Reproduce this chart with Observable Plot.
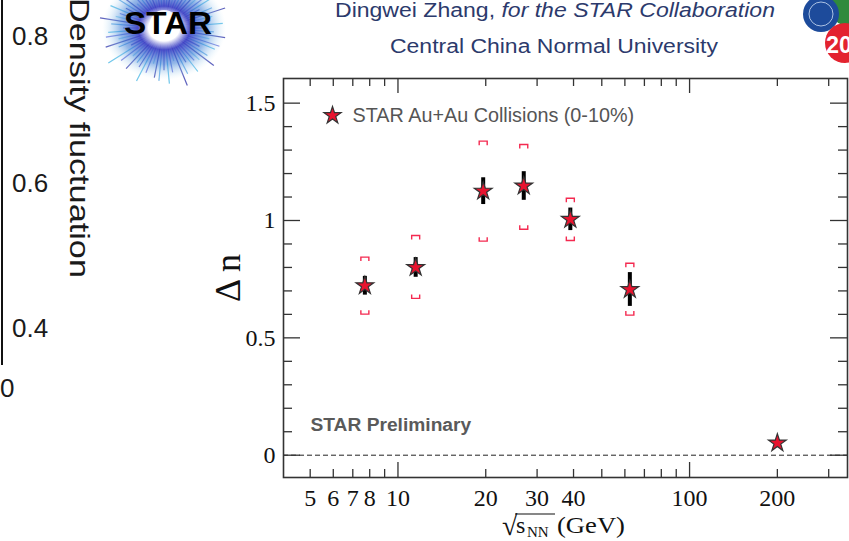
<!DOCTYPE html>
<html><head><meta charset="utf-8">
<script src="https://cdn.jsdelivr.net/npm/d3@7"></script>
<script src="https://cdn.jsdelivr.net/npm/@observablehq/plot@0.6"></script>
<style>
body{margin:0;background:#fff;}
#wrap{position:relative;width:849px;height:541px;overflow:hidden;background:#fff;}
#wrap > svg{position:absolute;left:0;top:0;}
</style></head>
<body><div id="wrap"></div>
<script>
// ---- data ----
const energies = [7.7, 11.5, 19.6, 27, 39, 62.4, 200];          // sqrt(s_NN) GeV
const deltaN   = [0.722, 0.800, 1.125, 1.147, 1.005, 0.706, 0.052];
const statErr  = [0.040, 0.042, 0.057, 0.061, 0.048, 0.072, 0.015];
const sysHigh  = [0.844, 0.936, 1.338, 1.324, 1.095, 0.818, null];
const sysLow   = [0.601, 0.668, 0.912, 0.963, 0.915, 0.597, null];
const xTickLabels = [5, 6, 7, 8, 10, 20, 30, 40, 100, 200];
const xMajorTicks = [10, 100];
const xMinorTicks = [5, 6, 7, 8, 9, 20, 30, 40, 50, 60, 70, 80, 90, 200, 300];
const yTickLabels = [0, 0.5, 1, 1.5];
const yMinorTicks = [0.1, 0.2, 0.3, 0.4, 0.6, 0.7, 0.8, 0.9, 1.1, 1.2, 1.3, 1.4];
const legendLabel = "STAR Au+Au Collisions (0-10%)";
const prelimLabel = "STAR Preliminary";

const rows = energies.map((e, i) => ({
  energy: e, dn: deltaN[i],
  lo: deltaN[i] - statErr[i], hi: deltaN[i] + statErr[i],
  sysHigh: sysHigh[i], sysLow: sysLow[i]
}));
const sysRows = rows.filter(d => d.sysHigh != null);

const bracketTop = {draw(ctx, size) {const r = Math.sqrt(size / Math.PI); ctx.moveTo(-r, r); ctx.lineTo(-r, 0); ctx.lineTo(r, 0); ctx.lineTo(r, r);}};
const bracketBottom = {draw(ctx, size) {const r = Math.sqrt(size / Math.PI); ctx.moveTo(-r, -r); ctx.lineTo(-r, 0); ctx.lineTo(r, 0); ctx.lineTo(r, -r);}};

const serif = "Liberation Serif, Times New Roman, serif";
const sans = "Liberation Sans, Arial, Helvetica, sans-serif";
const frameColor = "#333";
const red = "#e8142f";
const sysRed = "#f42a50";

const W = 849, H = 541, mT = 78, mB = 64, mL = 283, mR = 2;
const fw = W - mL - mR, fh = H - mT - mB;
const tick = (len, side) => ({stroke: frameColor, strokeWidth: 1.3,
  insetTop: side === "bottom" ? fh - len : 0, insetBottom: side === "top" ? fh - len : 0,
  insetLeft: side === "right" ? fw - len : 0, insetRight: side === "left" ? fw - len : 0});

const chart = Plot.plot({
  width: W, height: H,
  marginTop: mT, marginBottom: mB, marginLeft: mL, marginRight: mR,
  style: {fontFamily: serif, fontSize: "24px", color: "#111", background: "transparent", overflow: "visible"},
  x: {type: "log", domain: [4.05, 348], axis: null},
  y: {domain: [-0.095, 1.605], axis: null},
  marks: [
    Plot.ruleY([0], {stroke: "#222", strokeWidth: 1, strokeDasharray: "5,3"}),
    // inward ticks, all four sides
    Plot.ruleX(xMajorTicks, {x: d => d, ...tick(15, "bottom")}),
    Plot.ruleX(xMinorTicks, {x: d => d, ...tick(8, "bottom")}),
    Plot.ruleX(xMajorTicks, {x: d => d, ...tick(15, "top")}),
    Plot.ruleX(xMinorTicks, {x: d => d, ...tick(8, "top")}),
    Plot.ruleY(yTickLabels, {y: d => d, ...tick(17, "left")}),
    Plot.ruleY(yMinorTicks, {y: d => d, ...tick(9, "left")}),
    Plot.ruleY(yTickLabels, {y: d => d, ...tick(17, "right")}),
    Plot.ruleY(yMinorTicks, {y: d => d, ...tick(9, "right")}),
    // tick labels
    Plot.text(xTickLabels, {x: d => d, frameAnchor: "bottom", dy: 11, lineAnchor: "top", text: d => String(d), fontSize: 24, fill: "#111"}),
    Plot.text(yTickLabels, {y: d => d, frameAnchor: "left", dx: -8, textAnchor: "end", text: d => String(d), fontSize: 24, fill: "#111"}),
    Plot.frame({stroke: frameColor, strokeWidth: 1.6}),
    // systematic brackets
    Plot.dot(sysRows, {x: "energy", y: "sysHigh", symbol: bracketTop, r: 4, fill: "none", stroke: sysRed, strokeWidth: 1.4}),
    Plot.dot(sysRows, {x: "energy", y: "sysLow", symbol: bracketBottom, r: 4, fill: "none", stroke: sysRed, strokeWidth: 1.4}),
    // statistical error bars
    Plot.ruleX(rows, {x: "energy", y1: "lo", y2: "hi", stroke: "#000", strokeWidth: 4}),
    // data stars
    Plot.dot(rows, {x: "energy", y: "dn", symbol: "star", r: 5.6, fill: red, stroke: "#333", strokeWidth: 1.2}),
    // legend
    Plot.dot([legendLabel], {frameAnchor: "top-left", dx: 49, dy: 37, symbol: "star", r: 5.4, fill: red, stroke: "#333", strokeWidth: 1.2}),
    Plot.text([legendLabel], {frameAnchor: "top-left", dx: 69, dy: 37, text: d => d, textAnchor: "start", lineAnchor: "middle", fontFamily: sans, fontSize: 19.8, fill: "#555"}),
    Plot.text([prelimLabel], {frameAnchor: "bottom-left", dx: 27, dy: -53, text: d => d, textAnchor: "start", lineAnchor: "middle", fontFamily: sans, fontSize: 19.2, fontWeight: "bold", fill: "#5a5a5a"})
  ]
});
const wrap = document.getElementById("wrap");
wrap.appendChild(chart);

// logo rays (decoration only)
let rays = "";
const rayCols = ["#3b3fc2", "#4a9de0", "#2a2fa8", "#7fd0ee", "#5a62d8", "#3fb3e3"];
for (let i = 0; i < 72; i++) {
  const a = i * 5 * Math.PI / 180;
  const len = 38 + (i % 3) * 9 + (i % 5) * 3;
  const x2 = 164 + len * Math.cos(a), y2 = 28 + len * Math.sin(a) * 0.9;
  rays += `<line x1="164" y1="28" x2="${x2.toFixed(1)}" y2="${y2.toFixed(1)}" stroke="${rayCols[i % 6]}" stroke-width="1.2" stroke-opacity="0.75"/>`;
}

const overlay = `
<svg width="849" height="541" xmlns="http://www.w3.org/2000/svg" style="pointer-events:none" font-family="${sans}">
 <defs>
  <radialGradient id="burst" cx="50%" cy="50%" r="50%">
   <stop offset="0" stop-color="#ffffff"/>
   <stop offset="0.25" stop-color="#ffffff"/>
   <stop offset="0.42" stop-color="#3c3fc4" stop-opacity="0.9"/>
   <stop offset="0.7" stop-color="#3d7fd6" stop-opacity="0.55"/>
   <stop offset="1" stop-color="#bfe8f6" stop-opacity="0"/>
  </radialGradient>
 </defs>
 <!-- left partial slide -->
 <line x1="2" y1="0" x2="2" y2="365" stroke="#111" stroke-width="2"/>
 <g font-size="26" fill="#1a1a1a">
  <text x="12" y="45">0.8</text>
  <text x="12" y="192">0.6</text>
  <text x="12" y="337">0.4</text>
  <text x="0" y="397">0</text>
 </g>
 <text transform="translate(70,278) rotate(90)" text-anchor="end" font-size="28" fill="#1a1a1a" textLength="280" lengthAdjust="spacingAndGlyphs">Density fluctuation</text>
 <!-- STAR logo -->
 ${rays}
 <ellipse cx="164" cy="28" rx="62" ry="52" fill="url(#burst)"/>
 <circle cx="164" cy="24" r="14" fill="#fff" fill-opacity="0.9"/>
 <text x="168" y="34" text-anchor="middle" font-weight="bold" font-size="32" fill="#000" textLength="88" lengthAdjust="spacingAndGlyphs">STAR</text>
 <!-- header -->
 <text x="555" y="17" text-anchor="middle" font-size="20" fill="#2c3a6c" textLength="440" lengthAdjust="spacingAndGlyphs">Dingwei Zhang, <tspan font-style="italic">for the STAR Collaboration</tspan></text>
 <text x="554" y="53" text-anchor="middle" font-size="20" fill="#2c3a6c" textLength="328" lengthAdjust="spacingAndGlyphs">Central China Normal University</text>
 <!-- right logos -->
 <circle cx="849" cy="6" r="20" fill="#2f8a3c"/>
 <circle cx="821" cy="14" r="18" fill="#1d4b9b"/>
 <circle cx="821" cy="14" r="12" fill="none" stroke="#cfe0f5" stroke-width="0.8"/>
 <circle cx="845" cy="43" r="20" fill="#e3232f"/>
 <text x="826" y="53" font-size="24" font-weight="bold" fill="#fff" textLength="26" lengthAdjust="spacingAndGlyphs">20</text>
 <!-- axis titles -->
 <text transform="translate(240,278) rotate(-90)" text-anchor="middle" font-family="${serif}" font-size="36" fill="#111">Δ n</text>
 <text x="502" y="535" font-family="${serif}" font-size="28" fill="#111">√</text>
 <line x1="515" y1="514" x2="555" y2="514" stroke="#111" stroke-width="1.2"/>
 <text x="516" y="533" font-family="${serif}" font-size="24" fill="#111">s</text>
 <text x="527" y="537" font-family="${serif}" font-size="15" fill="#111">NN</text>
 <text x="557" y="533" font-family="${serif}" font-size="24" fill="#111" textLength="68" lengthAdjust="spacingAndGlyphs">(GeV)</text>
</svg>`;
wrap.insertAdjacentHTML("beforeend", overlay);
</script>
</body></html>
